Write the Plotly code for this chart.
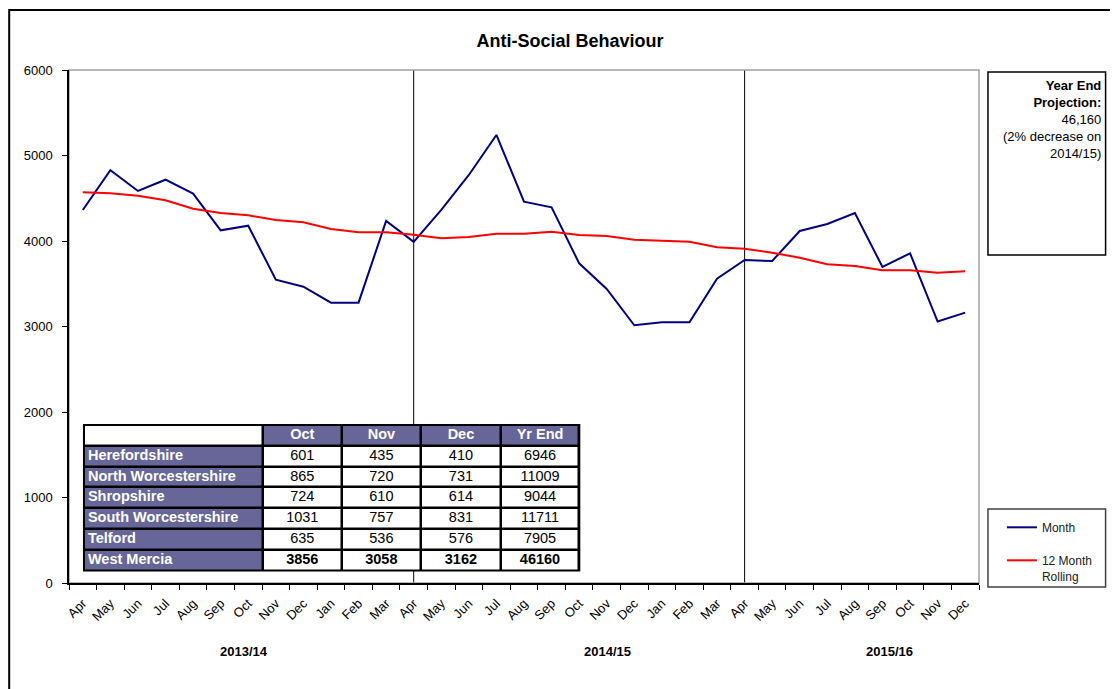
import plotly.graph_objects as go

FONT = "Liberation Sans, Arial, sans-serif"

months = ["Apr", "May", "Jun", "Jul", "Aug", "Sep", "Oct", "Nov", "Dec", "Jan", "Feb", "Mar",
          "Apr", "May", "Jun", "Jul", "Aug", "Sep", "Oct", "Nov", "Dec", "Jan", "Feb", "Mar",
          "Apr", "May", "Jun", "Jul", "Aug", "Sep", "Oct", "Nov", "Dec"]
years = ["2013/14", "2014/15", "2015/16"]

month_vals = [4363, 4827, 4585, 4717, 4554, 4125, 4179, 3548, 3466, 3279, 3279, 4234,
              3990, 4363, 4772, 5240, 4460, 4394, 3739, 3439, 3014, 3049, 3049, 3559,
              3778, 3766, 4117, 4199, 4328, 3696, 3856, 3058, 3162]
rolling_vals = [4569, 4558, 4530, 4476, 4378, 4328, 4300, 4246, 4219, 4140, 4102, 4102,
                4074, 4031, 4047, 4086, 4086, 4109, 4070, 4059, 4016, 4004, 3992, 3926,
                3910, 3863, 3805, 3727, 3708, 3657, 3657, 3629, 3645]

# table
areas = ["Herefordshire", "North Worcestershire", "Shropshire",
         "South Worcestershire", "Telford", "West Mercia"]
tbl_cols = ["Oct", "Nov", "Dec", "Yr End"]
oct_vals = [601, 865, 724, 1031, 635, 3856]
nov_vals = [435, 720, 610, 757, 536, 3058]
dec_vals = [410, 731, 614, 831, 576, 3162]
yr_end_vals = [6946, 11009, 9044, 11711, 7905, 46160]

PURPLE = "#666699"

# the page puts the figure 8px in from the corner and clips it at the body width
OFF = 8
FIG_W, FIG_H = 1118 - 2 * OFF, 689 - OFF
PL, PT, PR, PB = 69, 70, 982, 583          # plot area in screen pixels
PW, PH = PR - PL, PB - PT
RIGHT = 1109                               # right edge of the side boxes


def fx(sx):  # screen x -> paper
    return (sx - PL) / PW


def fy(sy):  # screen y -> paper
    return (PB - sy) / PH


x = list(range(len(months)))

fig = go.Figure()
fig.add_trace(go.Scatter(x=x, y=month_vals, name="Month", mode="lines",
                         line=dict(color="#000080", width=2), legendgroup="a"))
fig.add_trace(go.Scatter(x=x, y=rolling_vals, name="12 Month<br>Rolling", mode="lines",
                         line=dict(color="#ff0000", width=2), legendgroup="b"))

# ---- table drawn as a heatmap grid + text on its own axes ----
col_w = [180, 79, 80, 80, 79]
col_edges = [0]
for w in col_w:
    col_edges.append(col_edges[-1] + w)
n_rows = len(areas) + 1
z = [[0] + [1] * len(tbl_cols)] + [[1] + [0] * len(tbl_cols) for _ in areas]
fig.add_trace(go.Heatmap(z=z, x=col_edges, y=list(range(n_rows + 1)),
                         colorscale=[[0, "white"], [1, PURPLE]], zmin=0, zmax=1,
                         showscale=False, xgap=2.5, ygap=2.5, hoverinfo="skip",
                         xaxis="x2", yaxis="y2"))

cols = [oct_vals, nov_vals, dec_vals, yr_end_vals]
tx, ty, tt, tc, tp = [], [], [], [], []
for j, c in enumerate(tbl_cols):
    tx.append((col_edges[j + 1] + col_edges[j + 2]) / 2)
    ty.append(0.5)
    tt.append("<b>%s</b>" % c)
    tc.append("white")
    tp.append("middle center")
for i, a in enumerate(areas):
    last = i == len(areas) - 1
    tx.append(4)
    ty.append(i + 1.5)
    tt.append("<b>%s</b>" % a)
    tc.append("white")
    tp.append("middle right")
    for j, vals in enumerate(cols):
        tx.append((col_edges[j + 1] + col_edges[j + 2]) / 2)
        ty.append(i + 1.5)
        tt.append("<b>%d</b>" % vals[i] if last else "%d" % vals[i])
        tc.append("black")
        tp.append("middle center")
fig.add_trace(go.Scatter(x=tx, y=ty, text=tt, mode="text", textposition=tp,
                         textfont=dict(color=tc, size=14.5, family=FONT),
                         hoverinfo="skip", showlegend=False, xaxis="x2", yaxis="y2"))

shapes = []
# year separators at each April after the first
for i, m in enumerate(months):
    if m == "Apr" and i > 0:
        shapes.append(dict(type="line", xref="x", yref="paper", x0=i, x1=i, y0=0, y1=1,
                           line=dict(color="black", width=1), layer="below"))
shapes += [
    # table outline / grid colour
    dict(type="rect", xref="paper", yref="paper", x0=fx(83), x1=fx(582), y0=fy(571.5), y1=fy(424),
         fillcolor="black", line=dict(width=0), layer="below"),
    # outer frame
    dict(type="rect", xref="paper", yref="paper", x0=fx(9), x1=1.3, y0=-0.4, y1=fy(10),
         line=dict(color="black", width=2)),
    # plot area border
    dict(type="rect", xref="paper", yref="paper", x0=0, x1=1, y0=0, y1=1,
         line=dict(color="#a0a0a0", width=1.5), layer="below"),
    # projection box
    dict(type="rect", xref="paper", yref="paper", x0=fx(991), x1=fx(RIGHT), y0=fy(255), y1=fy(72),
         line=dict(color="black", width=1.5)),
    # legend box
    dict(type="rect", xref="paper", yref="paper", x0=fx(991), x1=fx(RIGHT), y0=fy(587), y1=fy(509),
         line=dict(color="#404040", width=1.5)),
]

annotations = [
    dict(text="<b>Year End<br>Projection:</b><br>46,160<br>(2% decrease on<br>2014/15)",
         xref="paper", yref="paper", x=fx(RIGHT - 3), y=fy(76),
         xanchor="right", yanchor="top", align="right", showarrow=False,
         font=dict(size=13, color="black", family=FONT)),
]
for yr, sx in zip(years, [245, 609, 892]):
    annotations.append(dict(text="<b>%s</b>" % yr, xref="paper", yref="paper",
                            x=fx(sx), y=fy(651), xanchor="center", yanchor="middle",
                            showarrow=False, font=dict(size=13, color="black", family=FONT)))

fig.update_layout(
    width=FIG_W, height=FIG_H,
    margin=dict(l=PL - OFF, r=FIG_W + OFF - PR, t=PT - OFF, b=FIG_H - (PB - OFF)),
    paper_bgcolor="white", plot_bgcolor="rgba(0,0,0,0)",
    font=dict(family=FONT, color="black"),
    title=dict(text="<b>Anti-Social Behaviour</b>", x=(570 - OFF) / FIG_W, xanchor="center",
               y=1 - (41 - OFF) / FIG_H, yanchor="middle",
               font=dict(size=18, family=FONT, color="black")),
    xaxis=dict(range=[-0.5, len(months) - 0.5], tickmode="array", tickvals=x, ticktext=months,
               tickangle=-45, ticks="", showgrid=False, zeroline=False, ticklabelstandoff=6,
               showline=True, linecolor="black", linewidth=1.5, tickfont=dict(size=13),
               minor=dict(tickmode="array", tickvals=[i - 0.5 for i in range(len(months) + 1)],
                          ticks="outside", ticklen=5, tickcolor="black", tickwidth=1, showgrid=False)),
    yaxis=dict(range=[0, 6000], dtick=1000, ticks="outside", ticklen=5, tickcolor="black",
               showgrid=False, zeroline=False, showline=True, linecolor="black", linewidth=1.5,
               tickfont=dict(size=13), ticklabelstandoff=7),
    xaxis2=dict(domain=[fx(84), fx(581)], range=[col_edges[0], col_edges[-1]], anchor="y2",
                visible=False, fixedrange=True),
    yaxis2=dict(domain=[fy(570.5), fy(425)], range=[n_rows, 0], anchor="x2",
                visible=False, fixedrange=True),
    legend=dict(x=fx(1005), y=fy(513), xanchor="left", yanchor="top",
                bgcolor="rgba(0,0,0,0)", borderwidth=0, font=dict(size=12, color="#202020"),
                tracegroupgap=14, traceorder="grouped", valign="top", itemwidth=30),
    shapes=shapes,
    annotations=annotations,
)

fig.write_html("out.html")
